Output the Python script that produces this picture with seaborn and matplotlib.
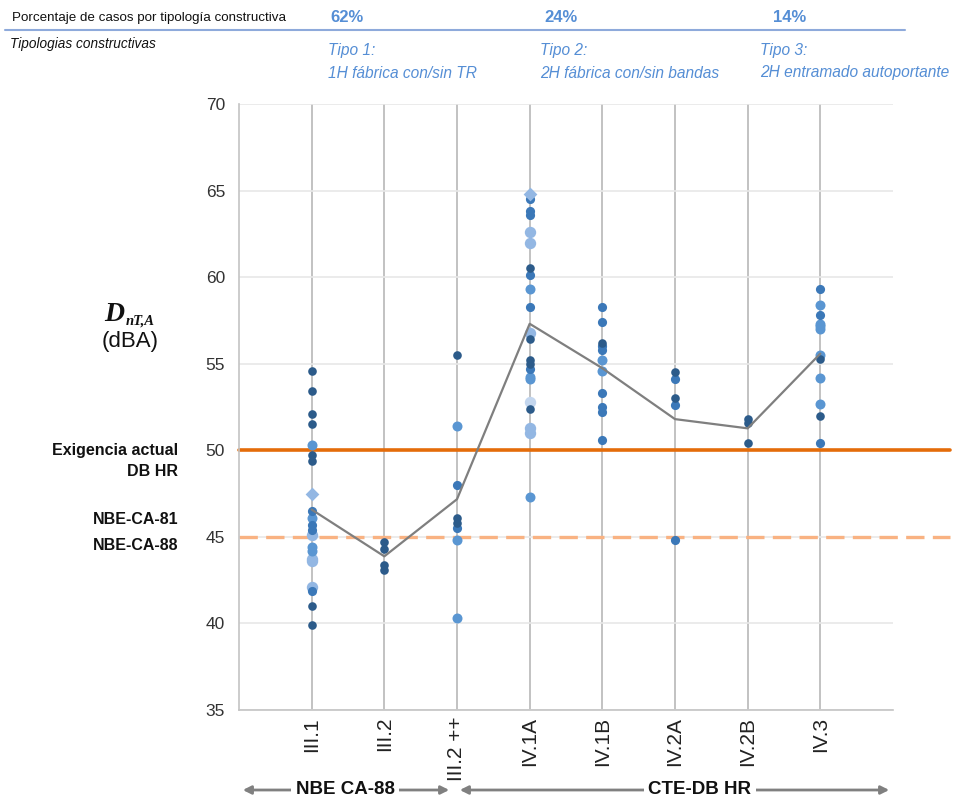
import numpy as np
import pandas as pd
import matplotlib
matplotlib.use("Agg")
import matplotlib.pyplot as plt
from matplotlib.lines import Line2D
from matplotlib import font_manager
import seaborn as sns

# ---------------- data ----------------
categorias = ["III.1", "III.2", "III.2 ++", "IV.1A", "IV.1B", "IV.2A", "IV.2B", "IV.3"]

val_III1 = [54.6, 53.4, 52.1, 51.5, 50.3, 49.7, 49.4, 47.5, 46.5, 46.1, 45.7, 45.4, 45.1,
            44.4, 44.2, 43.7, 43.6, 42.1, 41.9, 41.0, 39.9]
ton_III1 = ["d", "d", "d", "d", "c", "d", "d", "D", "m", "c", "m", "m", "l",
            "c", "c", "l", "l", "l", "m", "d", "d"]

val_III2 = [44.7, 44.3, 43.4, 43.1]
ton_III2 = ["d", "d", "d", "d"]

val_III2pp = [55.5, 51.4, 48.0, 46.1, 45.8, 45.5, 44.8, 40.3]
ton_III2pp = ["d", "c", "m", "d", "d", "m", "c", "c"]

val_IV1A = [64.8, 64.5, 63.8, 63.6, 62.6, 62.0, 60.5, 60.1, 59.3, 58.3, 56.8, 56.4, 55.2,
            55.0, 54.7, 54.25, 54.1, 52.8, 52.4, 51.3, 51.0, 47.3]
ton_IV1A = ["D", "m", "m", "m", "l", "l", "d", "m", "c", "m", "l", "d", "d",
            "d", "m", "c", "c", "v", "d", "l", "l", "c"]

val_IV1B = [58.3, 57.4, 56.2, 56.05, 55.8, 55.2, 54.6, 53.3, 52.5, 52.2, 50.6]
ton_IV1B = ["m", "m", "d", "m", "m", "c", "c", "m", "m", "m", "m"]

val_IV2A = [54.5, 54.1, 53.0, 52.6, 44.8]
ton_IV2A = ["d", "m", "d", "m", "m"]

val_IV2B = [51.8, 51.6, 50.4]
ton_IV2B = ["d", "d", "d"]

val_IV3 = [59.3, 58.4, 57.8, 57.3, 57.15, 57.0, 55.5, 55.25, 54.2, 52.7, 52.0, 50.4]
ton_IV3 = ["m", "c", "m", "c", "c", "c", "c", "d", "c", "c", "d", "m"]

exigencia_db_hr = 50
exigencia_nbe = 45
porcentajes = ["62%", "24%", "14%"]
tipos = ["Tipo 1:", "Tipo 2:", "Tipo 3:"]
tipos_desc = ["1H fábrica con/sin TR", "2H fábrica con/sin bandas", "2H entramado autoportante"]

# ---------------- table ----------------
rows = []
for cat, vals, tons in zip(categorias,
                           [val_III1, val_III2, val_III2pp, val_IV1A, val_IV1B, val_IV2A, val_IV2B, val_IV3],
                           [ton_III1, ton_III2, ton_III2pp, ton_IV1A, ton_IV1B, ton_IV2A, ton_IV2B, ton_IV3]):
    for v, t in zip(vals, tons):
        rows.append({"cat": cat, "val": v, "tono": t})
df = pd.DataFrame(rows)

# ---------------- style ----------------
sns.set_theme(style="white")
names = {f.name for f in font_manager.fontManager.ttflist}
NARROW = "Liberation Sans Narrow" if "Liberation Sans Narrow" in names else "Liberation Sans"
plt.rcParams["font.family"] = ["Liberation Sans", "DejaVu Sans"]

W, H = 957, 800
fig = plt.figure(figsize=(W / 100, H / 100), dpi=100)
ax = fig.add_axes([239 / W, 90 / H, 654 / W, 606 / H])

def ftext(x, y, s, **kw):
    return fig.text(x / W, 1 - y / H, s, **kw)

estilos = {
    "v": dict(color="#c3d6ee", size=8.2, marker="o"),
    "l": dict(color="#93b7e3", size=8.2, marker="o"),
    "c": dict(color="#5a96d2", size=7.2, marker="o"),
    "m": dict(color="#3b78b8", size=6.6, marker="o"),
    "d": dict(color="#2c5b8a", size=6.2, marker="o"),
    "D": dict(color="#93b7e3", size=7.0, marker="D"),
}
for t in ["v", "l", "c", "m", "d", "D"]:
    sub = df[df["tono"] == t]
    if len(sub) == 0:
        continue
    st = estilos[t]
    sns.stripplot(data=sub, x="cat", y="val", order=categorias, jitter=False,
                  color=st["color"], size=st["size"], marker=st["marker"],
                  linewidth=0, ax=ax, zorder=3)

sns.pointplot(data=df, x="cat", y="val", order=categorias, errorbar=None,
              color="#7f7f7f", marker="", markersize=0, linewidth=1.6, ax=ax)
for ln in ax.lines:
    ln.set_zorder(4)

ax.axhline(exigencia_db_hr, xmin=0, xmax=(950 - 239) / 654, color="#e46c0a", lw=2.6,
           clip_on=False, zorder=2)
ax.axhline(exigencia_nbe, xmin=0, xmax=(950 - 239) / 654, color="#f9b282", lw=2.4,
           dashes=(5.5, 2.5), clip_on=False, zorder=2)

ax.set_xlim(-1, len(categorias))
ax.set_ylim(35, 70)
ax.set_yticks(range(35, 71, 5))
ax.set_xlabel("")
ax.set_ylabel("")
ax.grid(axis="y", color="#e8e8e8", lw=1.2)
ax.grid(axis="x", color="#bdbdbd", lw=1.3)
ax.set_axisbelow(True)
for s in ["top", "right"]:
    ax.spines[s].set_visible(False)
for s in ["left", "bottom"]:
    ax.spines[s].set_color("#c4c4c4")
    ax.spines[s].set_linewidth(1.2)
ax.tick_params(axis="y", length=0, labelsize=12.5, labelcolor="#333333", pad=10)
ax.tick_params(axis="x", length=4, color="#c4c4c4", labelsize=15, labelcolor="#222222",
               rotation=90, pad=1)

# ---------------- header ----------------
ftext(12, 18, "Porcentaje de casos por tipología constructiva", fontsize=9.6,
      family=[NARROW, "DejaVu Sans"], va="center", ha="left", color="#111111")
for x, p in zip([330, 544, 773], porcentajes):
    ftext(x, 17, p, fontsize=12, fontweight="bold", color="#558ed5", va="center", ha="left",
          family=[NARROW, "DejaVu Sans"])
fig.add_artist(Line2D([5 / W, 905 / W], [1 - 30 / H, 1 - 30 / H], color="#8eaadb", lw=1.5,
                      transform=fig.transFigure))
ftext(10, 44, "Tipologias constructivas", fontsize=9.8, style="italic",
      family=[NARROW, "DejaVu Sans"], va="center", ha="left", color="#111111")
for x, t, d in zip([328, 540, 760], tipos, tipos_desc):
    ftext(x, 50, t, fontsize=11.2, style="italic", color="#558ed5", va="center", ha="left",
          family=[NARROW, "DejaVu Sans"])
    ftext(x, 73, d, fontsize=11.2, style="italic", color="#558ed5", va="center", ha="left",
          family=[NARROW, "DejaVu Sans"])

# ---------------- y label ----------------
ftext(104, 321, "D", fontsize=20, fontweight="bold", style="italic",
      family=["Liberation Serif", "DejaVu Serif"], ha="left", va="baseline", color="#111111")
ftext(126, 325, "nT,A", fontsize=10.5, fontweight="bold", style="italic",
      family=["Liberation Serif", "DejaVu Serif"], ha="left", va="baseline", color="#111111")
ftext(130, 341, "(dBA)", fontsize=16, ha="center", va="center", color="#111111")

for y, s in [(450, "Exigencia actual"), (472, "DB HR"), (519, "NBE-CA-81"), (545, "NBE-CA-88")]:
    ftext(178, y, s, fontsize=11.5, ha="right", va="center", color="#111111",
          family=[NARROW, "DejaVu Sans"], fontweight="bold")

# ---------------- bottom arrows ----------------
def flecha(x0, x1, label, xc):
    fig.add_artist(matplotlib.patches.FancyArrowPatch(
        (x0 / W, 1 - 790 / H), (x1 / W, 1 - 790 / H), transform=fig.transFigure,
        arrowstyle="<|-|>", mutation_scale=12, color="#808080", lw=2))
    ftext(xc, 790, label, fontsize=13.5, fontweight="bold", ha="center", va="center",
          color="#111111", family=[NARROW, "DejaVu Sans"],
          bbox=dict(facecolor="white", edgecolor="none", pad=3))

flecha(240, 452, "NBE CA-88", 345)
flecha(457, 892, "CTE-DB HR", 700)

fig.savefig("out.png", dpi=100)
